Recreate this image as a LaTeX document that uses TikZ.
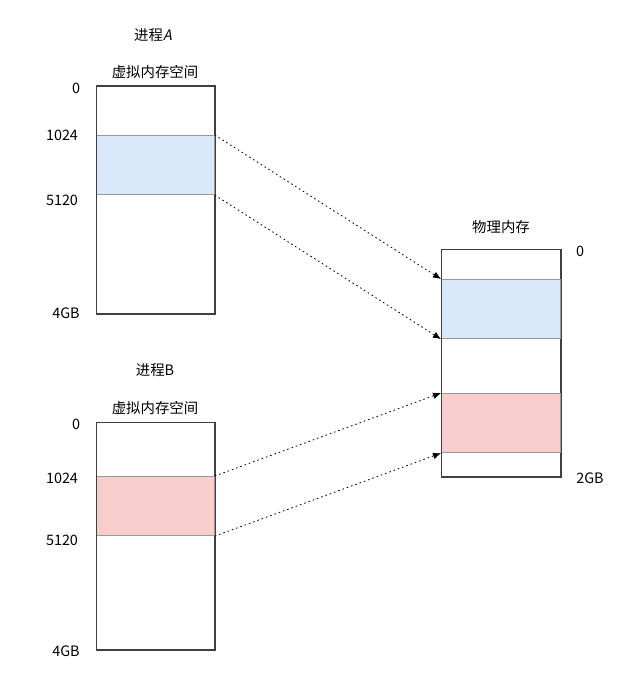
\documentclass[tikz,border=0pt]{standalone}
\usepackage{fontspec}
\setmainfont{Noto Sans CJK SC}
\newfontfamily\slantcjk[FakeSlant=0.2]{Noto Sans CJK SC}
\usepackage{xcolor}
\usetikzlibrary{arrows.meta}
\definecolor{bandblue}{HTML}{DAE8FC}
\definecolor{bandred}{HTML}{F8CECC}

\begin{document}
\begin{tikzpicture}[x=0.75pt, y=-0.75pt,
    every node/.style={font=\fontsize{10.8}{13}\selectfont, inner sep=0pt},
    memory/.style={draw=black!75, line width=0.75pt, fill=white,
      minimum width=88.5pt, minimum height=170.5pt, anchor=north west},
    band/.style={draw=black!40, line width=0.6pt,
      minimum width=88.5pt, minimum height=44.5pt, anchor=north west},
    outline/.style={draw=black!75, line width=0.75pt},
    link/.style={line width=0.6pt, dash pattern=on 1.2pt off 2.2pt,
      -{Latex[length=6pt,width=5pt]}}]
  \useasboundingbox (0,0) rectangle (640,677);

  % process A
  \node (titleA) at (153,35) {进程{\slantcjk A}};
  \node (spaceA) at (155,72) {虚拟内存空间};
  \node[memory] (vmA) at (96,86) {};
  \node[band, fill=bandblue] (segA) at (96,135) {};
  \draw[outline] (vmA.north west) rectangle (vmA.south east);
  \node (a0) at (76,88) {0};
  \node (a1) at (62,135) {1024};
  \node (a2) at (62,200) {5120};
  \node (a3) at (66,313) {4GB};

  % process B
  \node (titleB) at (155,370) {进程B};
  \node (spaceB) at (155,408) {虚拟内存空间};
  \node[memory] (vmB) at (96,422) {};
  \node[band, fill=bandred] (segB) at (96,476) {};
  \draw[outline] (vmB.north west) rectangle (vmB.south east);
  \node (b0) at (76,424) {0};
  \node (b1) at (62,478) {1024};
  \node (b2) at (62,540) {5120};
  \node (b3) at (66,651) {4GB};

  % physical memory
  \node (titleP) at (501,227) {物理内存};
  \node[memory, minimum width=89.25pt] (pm) at (441,249) {};
  \node[band, fill=bandblue, minimum width=89.25pt] (pA) at (441,279) {};
  \node[band, fill=bandred, minimum width=89.25pt] (pB) at (441,393) {};
  \draw[outline] (pm.north west) rectangle (pm.south east);
  \node (p0) at (580,251) {0};
  \node (p1) at (590,478) {2GB};

  % mappings
  \draw[link] (segA.north east) -- (pA.north west);
  \draw[link] (segA.south east) -- (pA.south west);
  \draw[link] (segB.north east) -- (pB.north west);
  \draw[link] (segB.south east) -- (pB.south west);
\end{tikzpicture}
\end{document}
